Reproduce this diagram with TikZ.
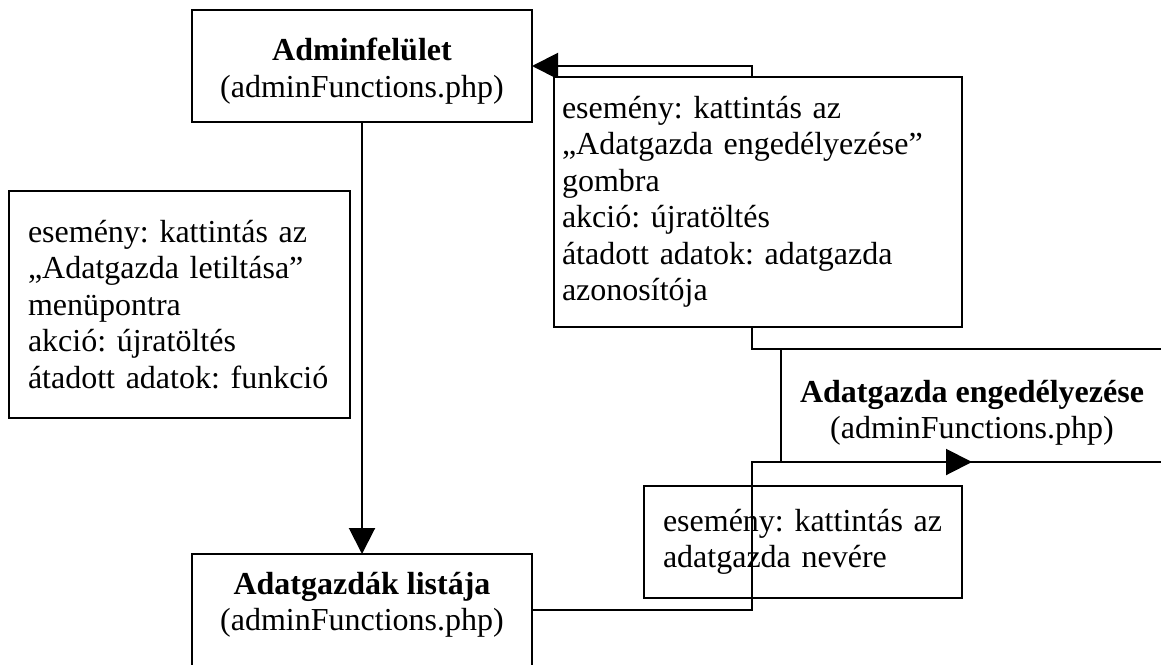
\documentclass[tikz,border=0pt]{standalone}
\usepackage{fontspec}
\setmainfont{Liberation Serif}
\usetikzlibrary{arrows.meta}
\frenchspacing
\begin{document}
\begin{tikzpicture}[x=1pt,y=-1pt,
  line width=2pt,
  every node/.style={inner sep=0pt, outer sep=0pt, font=\fontsize{32}{36.5}\selectfont\frenchspacing},
  pagebox/.style={draw, rectangle, minimum width=340pt, minimum height=112pt},
  pagetitle/.style={align=center, anchor=north},
  eventbox/.style={draw, rectangle, align=left, inner ysep=0pt},
  flow/.style={-{Triangle[length=26pt,width=26pt]}},
]
\useasboundingbox (0,0) rectangle (1161,664);
\clip (0,0) rectangle (1161,664);

% page boxes
\node[pagebox] (admin) at (362,66) {};
\node[pagetitle] (admintitle) at (362,38) {\textbf{Adminfelület}\\(adminFunctions.php)};
\node[pagebox] (list) at (362,610) {};
\node[pagetitle] (listtitle) at (362,572) {\textbf{Adatgazdák listája}\\(adminFunctions.php)};
\node[pagebox, minimum width=382pt, minimum height=113pt] (enable) at (972,405.5) {};
\node[pagetitle] (enabletitle) at (972,380) {\textbf{Adatgazda engedélyezése}\\(adminFunctions.php)};

% event descriptions lying under the connectors
\node[eventbox, minimum height=227pt, text width=303pt, inner xsep=19pt] (evdisable) at (179.5,304.5)
  {esemény: kattintás az\\„Adatgazda letiltása”\\menüpontra\\akció: újratöltés\\átadott adatok: funkció};
\node[eventbox, minimum height=112pt, text width=280pt, inner xsep=19pt] (evname) at (803,542)
  {esemény: kattintás az\\adatgazda nevére};

% connectors
\coordinate (lowbend) at (752,610);
\coordinate (midbend) at (752,462);
\coordinate (topbend) at (752,349);
\coordinate (upbend) at (752,66);
\draw[flow] (admin.south) -- (list.north);
\draw[flow] (list.east) -- (lowbend) -- (midbend) -- (enable.south);
\draw[flow] (enable.north) -- (topbend) -- (upbend) -- (admin.east);

% event description covering the return connector
\node[eventbox, fill=white, minimum height=250pt, text width=392pt, inner xsep=8pt] (evenable) at (758,202)
  {esemény: kattintás az\\„Adatgazda engedélyezése”\\gombra\\akció: újratöltés\\átadott adatok: adatgazda\\azonosítója};
\end{tikzpicture}
\end{document}
